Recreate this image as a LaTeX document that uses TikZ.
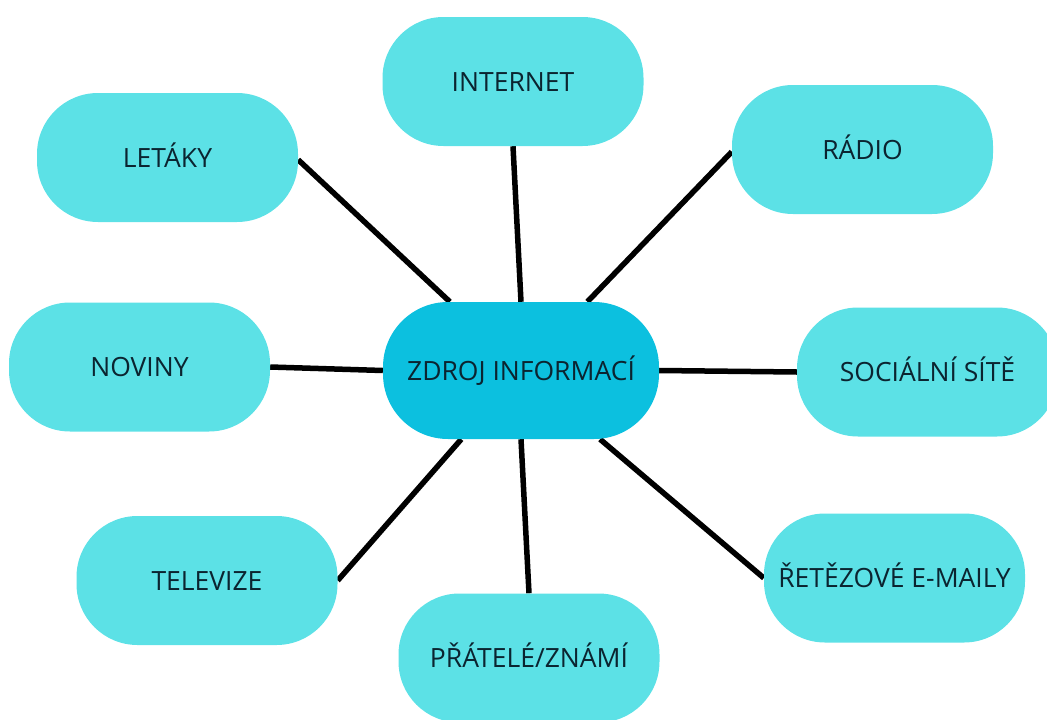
\documentclass[tikz,border=0pt]{standalone}
\usepackage{fontspec}
\setmainfont{Open Sans}
\usetikzlibrary{backgrounds}
\definecolor{leaf}{HTML}{5CE1E6}
\definecolor{hub}{HTML}{0CC0DF}
\definecolor{ink}{HTML}{0B2430}
\begin{document}
\begin{tikzpicture}[x=1pt,y=-1pt,
  leafbox/.style={rectangle, rounded corners=61pt, fill=leaf, minimum width=261pt,
    minimum height=129pt, inner sep=0pt, text=ink, text height=19pt, text depth=0pt,
    font=\fontsize{26.5}{31}\selectfont},
  hubbox/.style={leafbox, fill=hub, minimum width=276pt, minimum height=137pt, rounded corners=65pt},
  link/.style={line width=5.5pt, black}]
\useasboundingbox (0,0) rectangle (1047,720);
\clip (0,0) rectangle (1047,720);
\node[hubbox] (hub) at (521,370.5) {ZDROJ INFORMACÍ};
\node[leafbox] (internet) at (513,81.5) {INTERNET};
\node[leafbox] (letaky) at (167.5,157.5) {LETÁKY};
\node[leafbox] (radio) at (862.5,149.5) {RÁDIO};
\node[leafbox] (noviny) at (139.5,367) {NOVINY};
\node[leafbox] (socialni) at (927.5,372) {SOCIÁLNÍ SÍTĚ};
\node[leafbox] (televize) at (207,580.5) {TELEVIZE};
\node[leafbox] (pratele) at (529,658) {PŘÁTELÉ/ZNÁMÍ};
\node[leafbox] (emaily) at (894.5,578) {ŘETĚZOVÉ E-MAILY};
\begin{pgfonlayer}{background}
\draw[link] (letaky.-1) -- (hub.136);
\draw[link] (internet.south) -- (hub.north);
\draw[link] (radio.181) -- (hub.46.4);
\draw[link] (noviny.east) -- (hub.west);
\draw[link] (hub.east) -- (socialni.west);
\draw[link] (televize.east) -- (hub.229.2);
\draw[link] (pratele.north) -- (hub.south);
\draw[link] (emaily.west) -- (hub.-41.1);
\end{pgfonlayer}
\end{tikzpicture}
\end{document}
